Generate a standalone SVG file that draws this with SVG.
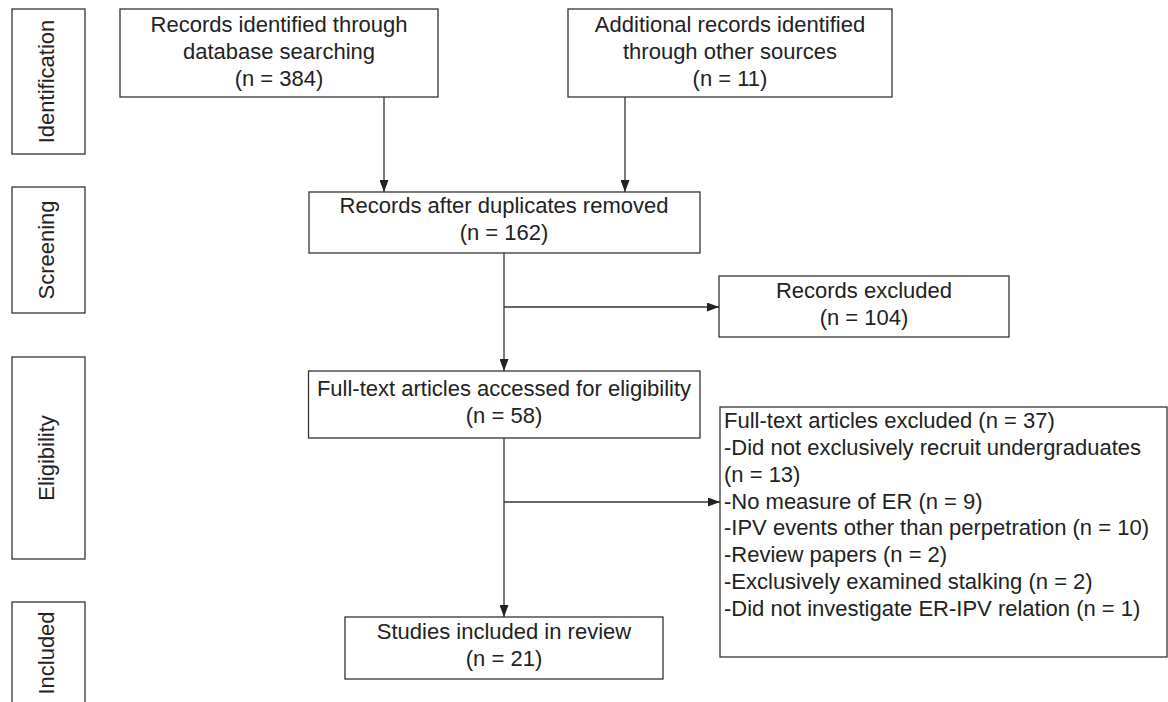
<svg xmlns="http://www.w3.org/2000/svg" width="1168" height="702" viewBox="0 0 1168 702">
<style>
.box{fill:#fff;stroke:#333;stroke-width:1.3}
.t{font-family:"Liberation Sans",Arial,sans-serif;font-size:22px;fill:#222}
.c{text-anchor:middle}
.conn{fill:none;stroke:#333;stroke-width:1.3}
</style>
<defs>
<marker id="arr" markerUnits="userSpaceOnUse" markerWidth="13" markerHeight="9" refX="12" refY="4.5" orient="auto">
<path d="M0,0 L12,4.5 L0,9 Z" fill="#222"/>
</marker>
</defs>
<rect width="1168" height="702" fill="#fff"/>
<g id="stage-identification">
<rect class="box" x="12" y="9" width="73" height="145"/>
<text class="t c" transform="translate(53.5,81.5) rotate(-90)">Identification</text>
</g>
<g id="stage-screening">
<rect class="box" x="12" y="187" width="73" height="126"/>
<text class="t c" transform="translate(53.5,250) rotate(-90)">Screening</text>
</g>
<g id="stage-eligibility">
<rect class="box" x="12" y="357" width="73" height="202"/>
<text class="t c" transform="translate(53.5,458) rotate(-90)">Eligibility</text>
</g>
<g id="stage-included">
<rect class="box" x="12" y="602" width="73" height="110"/>
<text class="t c" transform="translate(53.5,653) rotate(-90)">Included</text>
</g>
<g id="connectors">
<path class="conn" d="M384,97 V192" marker-end="url(#arr)"/>
<path class="conn" d="M625,97 V192" marker-end="url(#arr)"/>
<path class="conn" d="M504,253 V371" marker-end="url(#arr)"/>
<path class="conn" d="M504,307 H719" marker-end="url(#arr)"/>
<path class="conn" d="M504,438 V617" marker-end="url(#arr)"/>
<path class="conn" d="M504,502 H720" marker-end="url(#arr)"/>
</g>
<g id="db-records">
<rect class="box" x="120" y="9" width="318" height="88"/>
<text class="t c" x="279" y="32">Records identified through</text>
<text class="t c" x="279" y="59">database searching</text>
<text class="t c" x="279" y="86">(n = 384)</text>
</g>
<g id="other-records">
<rect class="box" x="568" y="9" width="324" height="88"/>
<text class="t c" x="730" y="32">Additional records identified</text>
<text class="t c" x="730" y="59">through other sources</text>
<text class="t c" x="730" y="86">(n = 11)</text>
</g>
<g id="deduplicated">
<rect class="box" x="309" y="192" width="391" height="61"/>
<text class="t c" x="504" y="213">Records after duplicates removed</text>
<text class="t c" x="504" y="240">(n = 162)</text>
</g>
<g id="records-excluded">
<rect class="box" x="719" y="276" width="290" height="61"/>
<text class="t c" x="864" y="298">Records excluded</text>
<text class="t c" x="864" y="325">(n = 104)</text>
</g>
<g id="fulltext-assessed">
<rect class="box" x="308.5" y="371" width="391.5" height="67"/>
<text class="t c" x="504" y="396">Full-text articles accessed for eligibility</text>
<text class="t c" x="504" y="423">(n = 58)</text>
</g>
<g id="fulltext-excluded">
<rect class="box" x="720" y="407" width="447" height="250"/>
<text class="t" x="724" y="428">Full-text articles excluded (n = 37)</text>
<text class="t" x="724" y="455">-Did not exclusively recruit undergraduates</text>
<text class="t" x="724" y="481.5">(n = 13)</text>
<text class="t" x="724" y="508.5">-No measure of ER (n = 9)</text>
<text class="t" x="724" y="535">-IPV events other than perpetration (n = 10)</text>
<text class="t" x="724" y="562">-Review papers (n = 2)</text>
<text class="t" x="724" y="589">-Exclusively examined stalking (n = 2)</text>
<text class="t" x="724" y="616">-Did not investigate ER-IPV relation (n = 1)</text>
</g>
<g id="included-studies">
<rect class="box" x="345" y="617" width="318" height="62"/>
<text class="t c" x="504" y="639">Studies included in review</text>
<text class="t c" x="504" y="666">(n = 21)</text>
</g>
</svg>
